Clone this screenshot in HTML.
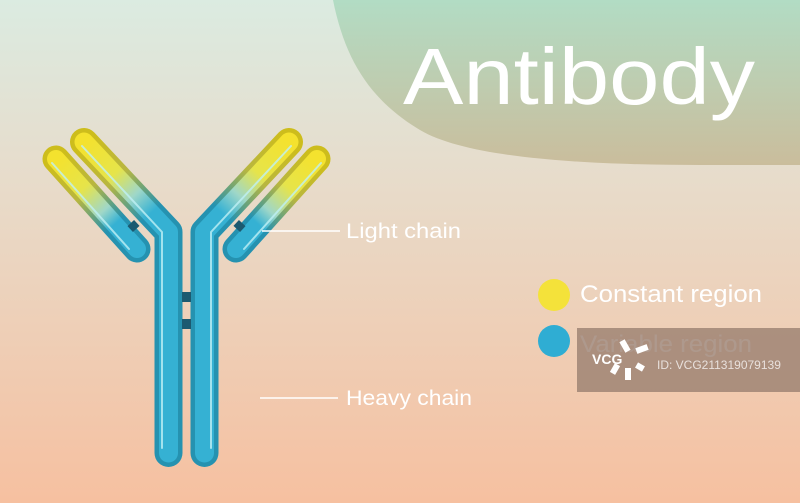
<!DOCTYPE html>
<html><head><meta charset="utf-8"><style>
html,body{margin:0;padding:0;width:800px;height:503px;overflow:hidden}
svg{display:block;font-family:"Liberation Sans","DejaVu Sans",sans-serif}
</style></head><body>
<svg width="800" height="503" viewBox="0 0 800 503" xmlns="http://www.w3.org/2000/svg">
<defs>
<linearGradient id="bg" x1="0" y1="0" x2="0" y2="1">
<stop offset="0" stop-color="#dbebe1"/><stop offset="0.35" stop-color="#e7dccb"/><stop offset="1" stop-color="#f6c0a0"/>
</linearGradient>
<linearGradient id="blob" x1="0" y1="0" x2="0" y2="1">
<stop offset="0" stop-color="#b2dcc4"/><stop offset="1" stop-color="#cabd9c"/>
</linearGradient>
<linearGradient id="hL" gradientUnits="userSpaceOnUse" x1="84" y1="142" x2="150" y2="214">
<stop offset="0" stop-color="#f4e22e"/><stop offset="0.45" stop-color="#e6e44a"/><stop offset="0.75" stop-color="#9fd7c8"/><stop offset="1" stop-color="#35b1d3"/></linearGradient>
<linearGradient id="hLo" gradientUnits="userSpaceOnUse" x1="84" y1="142" x2="150" y2="214">
<stop offset="0" stop-color="#cdbd1c"/><stop offset="0.5" stop-color="#b8b640"/><stop offset="1" stop-color="#2592b0"/></linearGradient>
<linearGradient id="lL" gradientUnits="userSpaceOnUse" x1="57" y1="160" x2="115" y2="224">
<stop offset="0" stop-color="#f4e22e"/><stop offset="0.45" stop-color="#e6e44a"/><stop offset="0.8" stop-color="#9fd7c8"/><stop offset="1" stop-color="#35b1d3"/></linearGradient>
<linearGradient id="lLo" gradientUnits="userSpaceOnUse" x1="57" y1="160" x2="115" y2="224">
<stop offset="0" stop-color="#cdbd1c"/><stop offset="0.5" stop-color="#b8b640"/><stop offset="1" stop-color="#2592b0"/></linearGradient>
<linearGradient id="hR" gradientUnits="userSpaceOnUse" x1="289" y1="142" x2="223" y2="214">
<stop offset="0" stop-color="#f4e22e"/><stop offset="0.45" stop-color="#e6e44a"/><stop offset="0.75" stop-color="#9fd7c8"/><stop offset="1" stop-color="#35b1d3"/></linearGradient>
<linearGradient id="hRo" gradientUnits="userSpaceOnUse" x1="289" y1="142" x2="223" y2="214">
<stop offset="0" stop-color="#cdbd1c"/><stop offset="0.5" stop-color="#b8b640"/><stop offset="1" stop-color="#2592b0"/></linearGradient>
<linearGradient id="lR" gradientUnits="userSpaceOnUse" x1="316" y1="160" x2="258" y2="224">
<stop offset="0" stop-color="#f4e22e"/><stop offset="0.45" stop-color="#e6e44a"/><stop offset="0.8" stop-color="#9fd7c8"/><stop offset="1" stop-color="#35b1d3"/></linearGradient>
<linearGradient id="lRo" gradientUnits="userSpaceOnUse" x1="316" y1="160" x2="258" y2="224">
<stop offset="0" stop-color="#cdbd1c"/><stop offset="0.5" stop-color="#b8b640"/><stop offset="1" stop-color="#2592b0"/></linearGradient>
</defs>
<rect width="800" height="503" fill="url(#bg)"/>
<path d="M333 0 H800 V165 H700 C600 165 470 160 420 130 C370 100 345 60 333 0 Z" fill="url(#blob)"/>
<text x="403" y="104" font-size="80" fill="#fff" textLength="352" lengthAdjust="spacingAndGlyphs">Antibody</text>

<g fill="none" stroke-linecap="round" stroke-linejoin="round">
<polyline points="84,142 168.5,232 168.5,453" stroke="url(#hLo)" stroke-width="28"/>
<polyline points="84,142 168.5,232 168.5,453" stroke="url(#hL)" stroke-width="19"/>
<polyline points="82,146 162,232 162,448" stroke="#bff0f5" stroke-width="2" opacity="0.8"/>
<polyline points="289,142 204.5,232 204.5,453" stroke="url(#hRo)" stroke-width="28"/>
<polyline points="289,142 204.5,232 204.5,453" stroke="url(#hR)" stroke-width="19"/>
<polyline points="291,146 211,232 211,448" stroke="#bff0f5" stroke-width="2" opacity="0.8"/>
<line x1="56" y1="159" x2="137" y2="249" stroke="url(#lLo)" stroke-width="27"/>
<line x1="56" y1="159" x2="137" y2="249" stroke="url(#lL)" stroke-width="18"/>
<line x1="52" y1="163" x2="129" y2="249" stroke="#bff0f5" stroke-width="2" opacity="0.8"/>
<line x1="317" y1="159" x2="236" y2="249" stroke="url(#lRo)" stroke-width="27"/>
<line x1="317" y1="159" x2="236" y2="249" stroke="url(#lR)" stroke-width="18"/>
<line x1="321" y1="163" x2="244" y2="249" stroke="#bff0f5" stroke-width="2" opacity="0.8"/>
</g>
<rect x="182" y="292" width="9" height="10" fill="#1c5a70"/>
<rect x="182" y="319" width="9" height="10" fill="#1c5a70"/>
<rect x="129" y="222" width="9" height="8" fill="#1c5a70" transform="rotate(-43 133.5 226)"/>
<rect x="235" y="222" width="9" height="8" fill="#1c5a70" transform="rotate(43 239.5 226)"/>

<line x1="262" y1="231" x2="340" y2="231" stroke="#fff" stroke-width="1.5"/>
<text x="346" y="238" font-size="21" fill="#fff" textLength="115" lengthAdjust="spacingAndGlyphs">Light chain</text>
<line x1="260" y1="398" x2="338" y2="398" stroke="#fff" stroke-width="1.5"/>
<text x="346" y="405" font-size="21" fill="#fff" textLength="126" lengthAdjust="spacingAndGlyphs">Heavy chain</text>

<circle cx="554" cy="295" r="16" fill="#f4e23a"/>
<text x="580" y="302" font-size="24" fill="#fff" textLength="182" lengthAdjust="spacingAndGlyphs">Constant region</text>
<circle cx="554" cy="341" r="16" fill="#2fadd3"/>
<text x="580" y="352" font-size="24" fill="#fff" textLength="172" lengthAdjust="spacingAndGlyphs">Variable region</text>
<rect x="577" y="328" width="223" height="64" fill="#9a8070" opacity="0.8"/>
<text x="592" y="364" font-size="14" font-weight="bold" fill="#fff">VCG</text>
<g fill="#fff"><rect x="622" y="340" width="6" height="12" transform="rotate(-30 625 346)"/><rect x="636" y="346" width="12" height="6" transform="rotate(-20 642 349)"/><rect x="625" y="368" width="6" height="12"/><rect x="612" y="364" width="6" height="10" transform="rotate(30 615 369)"/><rect x="636" y="364" width="8" height="6" transform="rotate(30 640 367)"/></g>
<text x="657" y="369" font-size="12" fill="#e8e0dc">ID: VCG211319079139</text>
</svg>
</body></html>
